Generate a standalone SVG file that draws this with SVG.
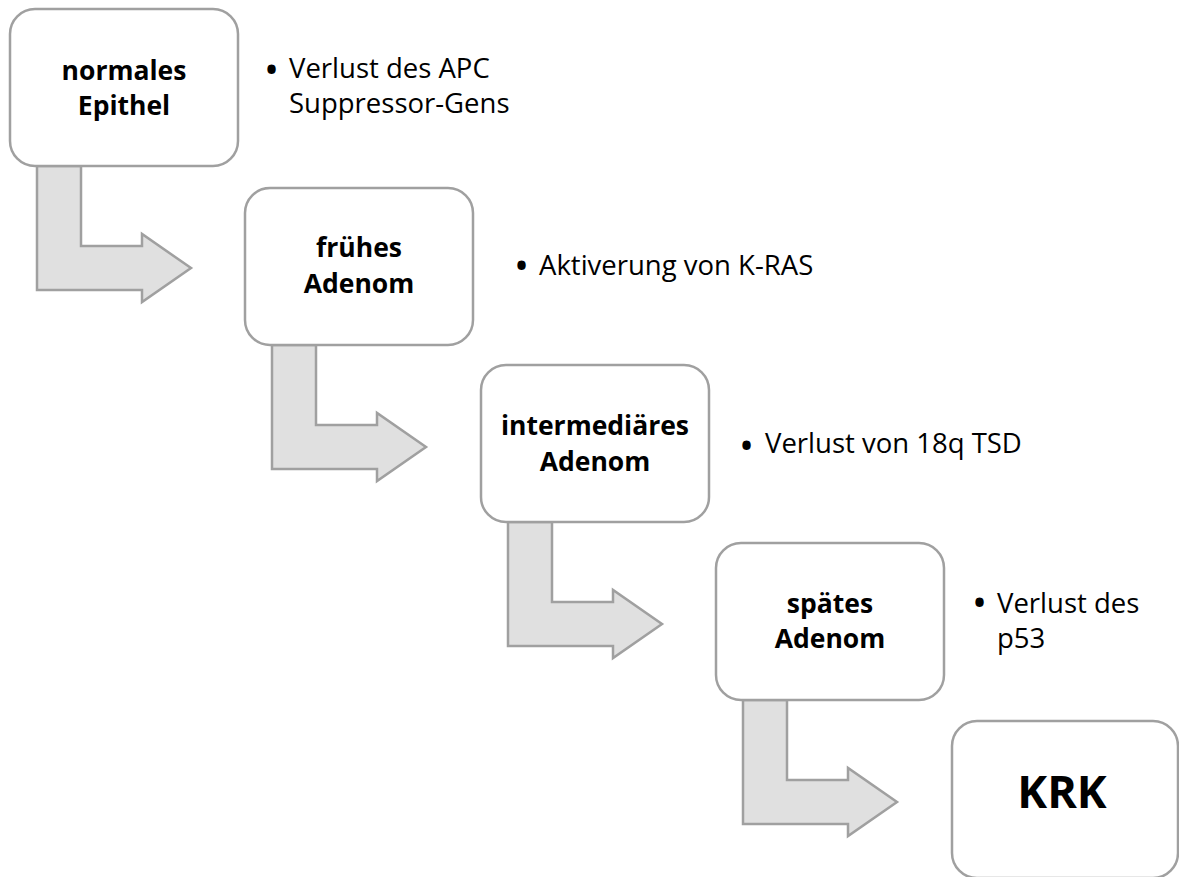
<svg xmlns="http://www.w3.org/2000/svg" width="1179" height="877" viewBox="0 0 1179 877">
<style>
.box{fill:#ffffff;stroke:#a0a0a0;stroke-width:2.5}
.arr{fill:#e0e0e0;stroke:#a0a0a0;stroke-width:2.5;stroke-linejoin:miter}
.lbl{font-family:"Open Sans","Liberation Sans",sans-serif;font-weight:bold;font-size:26.5px;fill:#000;text-anchor:middle}
.big{font-family:"Open Sans","Liberation Sans",sans-serif;font-weight:bold;font-size:45px;fill:#000;text-anchor:middle}
.note{font-family:"Open Sans","Liberation Sans",sans-serif;font-size:27.5px;fill:#000}
.bul{font-family:"Open Sans","Liberation Sans",sans-serif;font-size:40px;fill:#000}
</style>
<rect width="1179" height="877" fill="#ffffff"/>
<g id="connectors">
<path class="arr" d="M37,166 H81 V246 H142 V234 L191,268 L142,302 V290 H37 Z"/>
<path class="arr" d="M272,345 H316 V425 H377 V413 L426,447 L377,481 V469 H272 Z"/>
<path class="arr" d="M508,522 H552 V602 H613 V590 L662,624 L613,658 V646 H508 Z"/>
<path class="arr" d="M743,700 H787 V780 H848 V768 L897,802 L848,836 V824 H743 Z"/>
</g>
<g id="node1">
<rect class="box" x="10" y="9" width="228" height="157" rx="25"/>
<text class="lbl" x="124" y="80">normales</text>
<text class="lbl" x="124" y="115">Epithel</text>
</g>
<g id="node2">
<rect class="box" x="245" y="188" width="228" height="157" rx="25"/>
<text class="lbl" x="359" y="257">frühes</text>
<text class="lbl" x="359" y="293">Adenom</text>
</g>
<g id="node3">
<rect class="box" x="481" y="365" width="228" height="157" rx="25"/>
<text class="lbl" x="595" y="435">intermediäres</text>
<text class="lbl" x="595" y="471">Adenom</text>
</g>
<g id="node4">
<rect class="box" x="716" y="543" width="228" height="157" rx="25"/>
<text class="lbl" x="830" y="613">spätes</text>
<text class="lbl" x="830" y="648">Adenom</text>
</g>
<g id="node5">
<rect class="box" x="952" y="721" width="226" height="157" rx="25"/>
<text class="big" x="1062" y="808">KRK</text>
</g>
<g id="notes">
<text class="bul" x="264" y="84">•</text>
<text class="note" x="289" y="78">Verlust des APC</text>
<text class="note" x="289" y="113">Suppressor-Gens</text>
<text class="bul" x="514" y="280">•</text>
<text class="note" x="539" y="275">Aktiverung von K-RAS</text>
<text class="bul" x="739" y="460">•</text>
<text class="note" x="765" y="453">Verlust von 18q TSD</text>
<text class="bul" x="972" y="617">•</text>
<text class="note" x="997" y="613">Verlust des</text>
<text class="note" x="997" y="648">p53</text>
</g>
</svg>
